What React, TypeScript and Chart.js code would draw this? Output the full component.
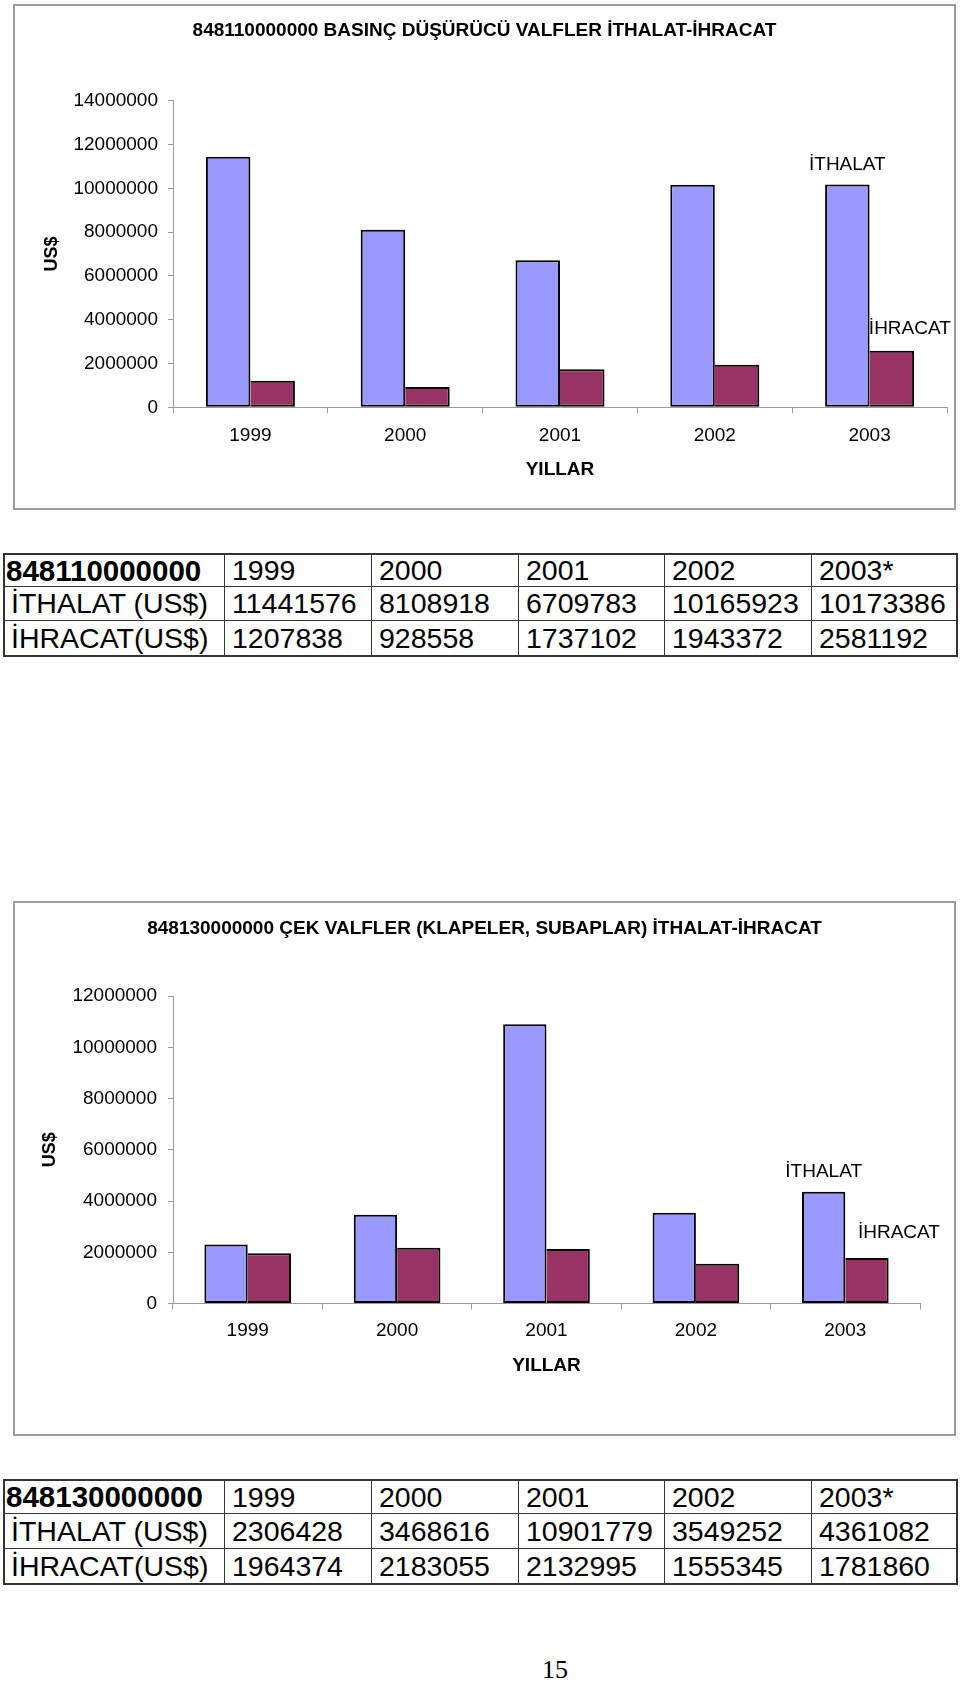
import React, { useEffect, useRef } from 'react';
import { Chart, registerables } from 'chart.js';

Chart.register(...registerables);

// ---------- data ----------
const years = ['1999', '2000', '2001', '2002', '2003'];
const tableYears = ['1999', '2000', '2001', '2002', '2003*'];
const importLabel = 'İTHALAT';
const exportLabel = 'İHRACAT';
const importRowLabel = 'İTHALAT (US$)';
const exportRowLabel = 'İHRACAT(US$)';
const xAxisTitle = 'YILLAR';
const yAxisTitle = 'US$';

const code1 = '848110000000';
const title1 = '848110000000 BASINÇ DÜŞÜRÜCÜ VALFLER İTHALAT-İHRACAT';
const imports1 = [11441576, 8108918, 6709783, 10165923, 10173386];
const exports1 = [1207838, 928558, 1737102, 1943372, 2581192];
const yMax1 = 14000000;
const yStep1 = 2000000;

const code2 = '848130000000';
const title2 = '848130000000 ÇEK VALFLER (KLAPELER, SUBAPLAR) İTHALAT-İHRACAT';
const imports2 = [2306428, 3468616, 10901779, 3549252, 4361082];
const exports2 = [1964374, 2183055, 2132995, 1555345, 1781860];
const yMax2 = 12000000;
const yStep2 = 2000000;

const pageNumber = '15';

// ---------- styles ----------
const FONT = '"Liberation Sans", Arial, Helvetica, sans-serif';
const BLUE = '#9999FF';
const PLUM = '#993366';
const AXIS = '#9a9a9a';

const framePlugin = {
  id: 'frameBorder',
  beforeDraw(chart: any) {
    const ctx = chart.ctx;
    ctx.save();
    ctx.fillStyle = '#fff';
    ctx.fillRect(0, 0, chart.width, chart.height);
    ctx.strokeStyle = '#9c9c9c';
    ctx.lineWidth = 2;
    ctx.strokeRect(1, 1, chart.width - 2, chart.height - 2);
    ctx.restore();
  },
};

const seriesTagPlugin = {
  id: 'seriesTags',
  afterDatasetsDraw(chart: any, _args: any, opts: any) {
    const ctx = chart.ctx;
    (opts.items || []).forEach((it: any) => {
      const meta = chart.getDatasetMeta(it.dataset);
      const el = meta.data[meta.data.length - 1];
      if (!el) return;
      const label = chart.data.datasets[it.dataset].label;
      ctx.save();
      ctx.font = `19px ${FONT}`;
      ctx.fillStyle = '#000';
      ctx.textAlign = it.align;
      ctx.textBaseline = 'alphabetic';
      ctx.fillText(label, el.x + it.dx, el.y + it.dy);
      ctx.restore();
    });
  },
};

function buildConfig(p: any) {
  return {
    type: 'bar',
    data: {
      labels: years,
      datasets: [
        {
          label: importLabel,
          data: p.imports,
          backgroundColor: BLUE,
          borderColor: '#000',
          borderWidth: { top: 2, left: 2, right: 2, bottom: 2 },
          borderSkipped: false,
          inflateAmount: 0,
          categoryPercentage: p.catPct,
          barPercentage: 1,
        },
        {
          label: exportLabel,
          data: p.exports,
          backgroundColor: PLUM,
          borderColor: '#000',
          borderWidth: { top: 2, left: 0, right: 2, bottom: 2 },
          borderSkipped: false,
          inflateAmount: 0,
          categoryPercentage: p.catPct,
          barPercentage: 1,
        },
      ],
    },
    options: {
      responsive: false,
      animation: false,
      devicePixelRatio: 1,
      layout: { padding: 0 },
      plugins: {
        legend: { display: false },
        tooltip: { enabled: false },
        title: {
          display: true,
          text: p.title,
          color: '#000',
          font: { family: FONT, size: 19, weight: 'bold' },
          padding: { top: p.titleTop, bottom: p.titleBottom },
        },
        seriesTags: { items: p.tags },
      },
      scales: {
        x: {
          grid: { display: true, drawOnChartArea: false, drawTicks: true, tickLength: 6, color: AXIS, offset: true },
          border: { display: true, color: AXIS, width: 1 },
          ticks: { color: '#000', font: { family: FONT, size: 19 }, padding: p.xPad, maxRotation: 0, autoSkip: false },
          title: {
            display: true,
            text: xAxisTitle,
            color: '#000',
            font: { family: FONT, size: 19, weight: 'bold' },
            padding: { top: 0, bottom: p.xTitleBottom },
          },
          afterFit: (s: any) => { s.height = p.xHeight; },
        },
        y: {
          min: 0,
          max: p.yMax,
          grid: { display: true, drawOnChartArea: false, drawTicks: true, tickLength: 5, color: AXIS },
          border: { display: true, color: AXIS, width: 1 },
          ticks: {
            stepSize: p.yStep,
            color: '#000',
            font: { family: FONT, size: 19 },
            padding: p.yPad,
            callback: (v: any) => String(v),
          },
          title: {
            display: true,
            text: yAxisTitle,
            color: '#000',
            font: { family: FONT, size: 18, weight: 'bold' },
            padding: { top: p.yTitleTop, bottom: 0 },
          },
          afterFit: (s: any) => { s.width = p.yWidth; },
        },
        rightSpace: {
          type: 'linear',
          position: 'right',
          display: true,
          grid: { display: false },
          border: { display: false },
          ticks: { display: false },
          afterFit: (s: any) => { s.width = p.rightSpace; },
        },
      },
    },
    plugins: [framePlugin, seriesTagPlugin],
  };
}

function BarChart({ params, left, top, width, height }: any) {
  const ref = useRef<HTMLCanvasElement | null>(null);
  useEffect(() => {
    if (!ref.current) return;
    const chart = new Chart(ref.current, buildConfig(params) as any);
    return () => chart.destroy();
  }, []);
  return (
    <canvas
      ref={ref}
      width={width}
      height={height}
      style={{ position: 'absolute', left, top, width, height, display: 'block' }}
    />
  );
}

function DataTable({ code, imports, exports, left, top, rows }: any) {
  const colW = [220, 147, 147, 146, 147, 144];
  const cellBase = (ci: number, ri: number): React.CSSProperties => ({
    boxSizing: 'border-box',
    borderRight: ci < 5 ? '1px solid #333' : 'none',
    borderBottom: ri < 2 ? '1px solid #333' : 'none',
    display: 'flex',
    alignItems: 'center',
    paddingLeft: ci === 0 ? 6 : 7,
    fontFamily: FONT,
    fontSize: 28.5,
    lineHeight: 1,
    whiteSpace: 'nowrap',
    overflow: 'hidden',
    color: '#000',
  });
  const data = [
    [code, ...tableYears],
    [importRowLabel, ...imports.map((v: number) => String(v))],
    [exportRowLabel, ...exports.map((v: number) => String(v))],
  ];
  return (
    <div
      style={{
        position: 'absolute',
        left,
        top,
        width: 955,
        height: rows.reduce((a: number, b: number) => a + b, 0) + 4,
        boxSizing: 'border-box',
        border: '2px solid #333',
        display: 'grid',
        gridTemplateColumns: colW.map((w) => w + 'px').join(' '),
        gridTemplateRows: rows.map((h: number) => h + 'px').join(' '),
      }}
    >
      {data.map((row, ri) =>
        row.map((txt, ci) => {
          const st = cellBase(ci, ri);
          if (ri === 0 && ci === 0) {
            st.fontWeight = 'bold';
            st.fontSize = 29.5;
            st.paddingLeft = 1;
          }
          return (
            <div key={ri + '-' + ci} style={st}>
              {txt}
            </div>
          );
        })
      )}
    </div>
  );
}

const chart1Params = {
  imports: imports1,
  exports: exports1,
  title: title1,
  catPct: 0.575,
  titleTop: 15.6,
  titleBottom: 58.3,
  xPad: 10.6,
  xTitleBottom: 28.6,
  xHeight: 102.7,
  yMax: yMax1,
  yStep: yStep1,
  yPad: 10,
  yTitleTop: 28.2,
  yWidth: 160,
  rightSpace: 9,
  tags: [
    { dataset: 0, dx: 0, dy: -14.3, align: 'center' },
    { dataset: 1, dx: -23, dy: -16.7, align: 'left' },
  ],
};

const chart2Params = {
  imports: imports2,
  exports: exports2,
  title: title2,
  catPct: 0.58,
  titleTop: 16.5,
  titleBottom: 55.8,
  xPad: 10.1,
  xTitleBottom: 58.6,
  xHeight: 132.4,
  yMax: yMax2,
  yStep: yStep2,
  yPad: 11,
  yTitleTop: 26.2,
  yWidth: 160,
  rightSpace: 36,
  tags: [
    { dataset: 0, dx: 0, dy: -15, align: 'center' },
    { dataset: 1, dx: -9, dy: -20, align: 'left' },
  ],
};

export default function App() {
  return (
    <div
      style={{
        position: 'absolute',
        left: 0,
        top: 0,
        width: 960,
        height: 1682,
        overflow: 'hidden',
        background: '#fff',
      }}
    >
      <BarChart params={chart1Params} left={13} top={4} width={943} height={506} />
      <DataTable code={code1} imports={imports1} exports={exports1} left={3} top={553} rows={[32, 34, 34]} />
      <BarChart params={chart2Params} left={13} top={901} width={943} height={535} />
      <DataTable code={code2} imports={imports2} exports={exports2} left={3} top={1479} rows={[33, 35, 34]} />
      <div
        style={{
          position: 'absolute',
          left: 505,
          top: 1657,
          width: 100,
          textAlign: 'center',
          fontFamily: '"Liberation Serif", "Times New Roman", serif',
          fontSize: 26,
          lineHeight: '26px',
          color: '#000',
        }}
      >
        {pageNumber}
      </div>
    </div>
  );
}
